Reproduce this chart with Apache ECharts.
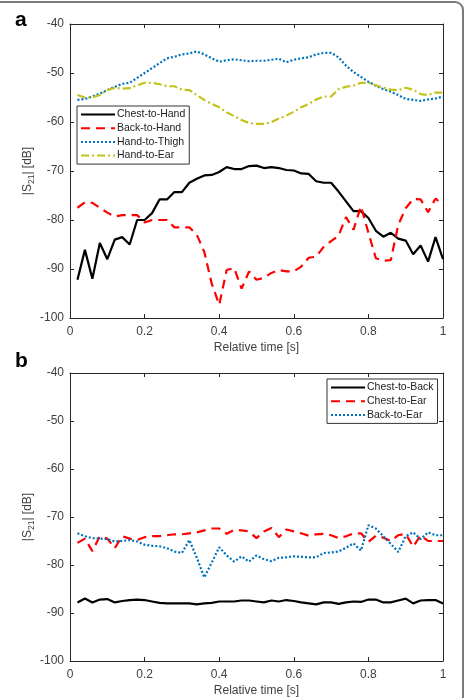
<!DOCTYPE html>
<html>
<head>
<meta charset="utf-8">
<script src="https://cdn.jsdelivr.net/npm/echarts@6/dist/echarts.min.js"></script>
<style>
  html, body { margin: 0; padding: 0; background: #fff; }
  #main { width: 468px; height: 698px; }
</style>
</head>
<body>
<div id="main"></div>
<script>
// relative time [s]
var times = [0.02, 0.04, 0.06, 0.08, 0.10, 0.12, 0.14, 0.16, 0.18, 0.20,
             0.22, 0.24, 0.26, 0.28, 0.30, 0.32, 0.34, 0.36, 0.38, 0.40,
             0.42, 0.44, 0.46, 0.48, 0.50, 0.52, 0.54, 0.56, 0.58, 0.60,
             0.62, 0.64, 0.66, 0.68, 0.70, 0.72, 0.74, 0.76, 0.78, 0.80,
             0.82, 0.84, 0.86, 0.88, 0.90, 0.92, 0.94, 0.96, 0.98, 1.00];

// panel a
var chestToHand = [-92.2, -86.1, -92.0, -84.7, -88.0, -84.0, -83.5, -85.0, -80.0, -80.0,
                   -78.6, -75.8, -75.8, -74.3, -74.3, -72.4, -71.6, -70.9, -70.8, -70.2,
                   -69.2, -69.6, -69.6, -69.0, -68.9, -69.4, -69.2, -69.4, -69.8, -69.9,
                   -70.5, -70.6, -72.1, -72.4, -72.4, -74.2, -76.2, -78.2, -78.2, -79.6,
                   -82.2, -83.4, -82.6, -83.8, -84.2, -87.0, -85.2, -88.5, -83.5, -88.0];
var backToHand = [-77.5, -76.4, -76.5, -77.5, -78.5, -79.3, -79.0, -79.0, -79.0, -80.5,
                  -80.0, -80.0, -80.0, -81.5, -81.5, -81.5, -83.0, -86.5, -93.0, -97.3,
                  -90.2, -89.8, -94.0, -90.5, -92.2, -91.8, -90.8, -90.2, -90.5, -90.5,
                  -89.5, -87.7, -87.5, -85.5, -84.3, -83.2, -79.4, -82.0, -77.2, -82.6,
                  -87.8, -88.3, -88.2, -81.0, -77.6, -75.7, -75.8, -78.4, -75.6, -77.0];
var handToThigh = [-55.5, -55.3, -54.8, -54.2, -53.5, -52.8, -52.2, -52.0, -51.0, -50.0,
                   -49.0, -48.0, -47.0, -46.7, -46.2, -46.0, -45.6, -46.2, -47.0, -47.7,
                   -47.4, -47.2, -47.4, -47.6, -47.5, -47.5, -47.3, -47.1, -47.8, -47.3,
                   -47.0, -46.8, -46.2, -45.9, -45.9, -46.8, -48.5, -49.8, -50.8, -51.8,
                   -52.6, -53.3, -53.8, -54.5, -55.3, -55.5, -55.7, -55.4, -55.2, -54.8];
var handToEar = [-54.5, -55.0, -55.0, -54.5, -53.5, -53.0, -53.2, -53.1, -52.5, -52.0,
                 -52.0, -52.3, -52.7, -52.7, -53.4, -53.5, -54.5, -55.5, -56.3, -57.0,
                 -58.0, -58.8, -59.6, -60.2, -60.4, -60.4, -60.0, -59.3, -58.7, -57.9,
                 -57.0, -56.3, -55.4, -54.8, -54.8, -53.3, -52.8, -52.6, -52.0, -52.0,
                 -52.5, -53.0, -53.4, -53.5, -53.0, -53.4, -54.3, -54.5, -54.0, -54.0];

// panel b
var chestToBack = [-87.8, -87.0, -87.8, -87.2, -87.1, -87.8, -87.5, -87.3, -87.2, -87.3,
                   -87.6, -87.9, -88.0, -88.0, -88.0, -88.0, -88.2, -88.0, -87.9, -87.6,
                   -87.6, -87.6, -87.4, -87.4, -87.6, -87.8, -87.4, -87.6, -87.3, -87.5,
                   -87.8, -88.0, -88.2, -87.8, -87.8, -88.1, -87.8, -87.6, -87.7, -87.2,
                   -87.2, -87.8, -87.8, -87.4, -87.0, -88.0, -87.4, -87.3, -87.3, -88.0];
var chestToEar = [-75.4, -74.5, -77.1, -74.0, -74.5, -76.5, -74.0, -74.5, -74.8, -74.2,
                  -74.0, -74.0, -73.8, -73.6, -73.6, -73.4, -73.2, -72.8, -72.4, -72.4,
                  -73.5, -72.7, -72.8, -73.0, -74.4, -73.0, -72.3, -74.2, -72.6, -73.0,
                  -73.4, -73.9, -73.6, -73.5, -73.8, -74.4, -74.0, -73.4, -73.4, -75.2,
                  -73.9, -74.3, -75.0, -73.8, -73.5, -76.2, -73.8, -75.0, -75.0, -75.0];
var backToEar = [-73.4, -74.0, -74.4, -74.5, -74.6, -75.1, -75.0, -74.8, -75.1, -75.8,
                 -76.0, -76.1, -76.5, -77.2, -77.5, -74.8, -78.5, -82.6, -79.5, -76.3,
                 -78.0, -79.3, -78.2, -79.3, -78.0, -78.8, -79.2, -78.5, -78.4, -78.2,
                 -78.3, -78.4, -78.4, -77.5, -77.4, -77.2, -76.4, -75.5, -77.0, -71.7,
                 -72.4, -74.0, -75.6, -77.3, -74.0, -73.2, -74.6, -73.2, -73.8, -73.8];

var xTicks = { min: 0, max: 1, interval: 0.2 };
var yTicks = { min: -100, max: -40, interval: 10 };

var axisColor = '#262626';
var labelColor = '#404040';
var fontFam = 'Liberation Sans';
var fs = 12;

function pairs(ys) {
    var out = [];
    for (var i = 0; i < ys.length; i++) out.push([times[i], ys[i]]);
    return out;
}

function xAxisMain(gi) {
    return {
        type: 'value', gridIndex: gi, min: xTicks.min, max: xTicks.max, interval: xTicks.interval,
        name: 'Relative time [s]', nameLocation: 'middle', nameGap: 24,
        nameTextStyle: { color: labelColor, fontSize: fs, fontFamily: fontFam },
        axisLine: { show: true, onZero: false, lineStyle: { color: axisColor, width: 1 } },
        axisTick: { show: true, inside: true, length: 4, lineStyle: { color: axisColor } },
        axisLabel: { color: labelColor, fontSize: fs, fontFamily: fontFam, margin: 8 },
        splitLine: { show: false }
    };
}
function xAxisTop(gi) {
    return {
        type: 'value', gridIndex: gi, position: 'top', min: xTicks.min, max: xTicks.max, interval: xTicks.interval,
        axisLine: { show: true, onZero: false, lineStyle: { color: axisColor, width: 1 } },
        axisTick: { show: true, inside: true, length: 4, lineStyle: { color: axisColor } },
        axisLabel: { show: false },
        splitLine: { show: false }
    };
}
function yAxisMain(gi) {
    return {
        type: 'value', gridIndex: gi, min: yTicks.min, max: yTicks.max, interval: yTicks.interval,
        name: '|S{sub|21}| [dB]', nameLocation: 'middle', nameGap: 34, nameRotate: 90,
        nameMoveOverlap: false,
        nameTextStyle: {
            color: labelColor, fontSize: fs, fontFamily: fontFam, lineHeight: 17,
            rich: { sub: { fontSize: 8.5, lineHeight: 9, verticalAlign: 'bottom', fontFamily: fontFam, color: labelColor } }
        },
        axisLine: { show: true, onZero: false, lineStyle: { color: axisColor, width: 1 } },
        axisTick: { show: true, inside: true, length: 4, lineStyle: { color: axisColor } },
        axisLabel: { color: labelColor, fontSize: fs, fontFamily: fontFam, margin: 6 },
        splitLine: { show: false }
    };
}
function yAxisRight(gi) {
    return {
        type: 'value', gridIndex: gi, position: 'right', min: yTicks.min, max: yTicks.max, interval: yTicks.interval,
        axisLine: { show: true, onZero: false, lineStyle: { color: axisColor, width: 1 } },
        axisTick: { show: true, inside: true, length: 4, lineStyle: { color: axisColor } },
        axisLabel: { show: false },
        splitLine: { show: false }
    };
}

function line(name, ys, xi, yi, color, dash, width) {
    return {
        name: name, type: 'line', xAxisIndex: xi, yAxisIndex: yi,
        data: pairs(ys), symbol: 'none', animation: false,
        lineStyle: { color: color, width: width, type: dash },
        itemStyle: { color: color }
    };
}

var chart = echarts.init(document.getElementById('main'));
var legendBase = {
    orient: 'vertical', itemWidth: 34, itemHeight: 12, itemGap: 2.7,
    backgroundColor: '#fff', borderColor: '#333', borderWidth: 1, borderRadius: 0,
    padding: [3, 4, 3, 3],
    itemStyle: { opacity: 0, borderWidth: 0 },
    textStyle: { color: '#222', fontSize: 10.5, fontFamily: fontFam, padding: [0, 0, 0, -3] }
};

var option = {
    backgroundColor: '#fff',
    animation: false,
    graphic: [
        { type: 'rect', shape: { x: -20, y: 2, width: 483, height: 760, r: 8 },
          style: { fill: 'none', stroke: '#7a7a7a', lineWidth: 2 }, silent: true },
        { type: 'text', left: 15, top: 10,
          style: { text: 'a', font: 'bold 21px Liberation Sans', fill: '#000' } },
        { type: 'text', left: 15, top: 351,
          style: { text: 'b', font: 'bold 21px Liberation Sans', fill: '#000' } }
    ],
    grid: [
        { left: 70, top: 24, width: 373, height: 294 },
        { left: 70, top: 373, width: 373, height: 294 }
    ],
    xAxis: [xAxisMain(0), xAxisMain(1), xAxisTop(0), xAxisTop(1)],
    yAxis: [yAxisMain(0), yAxisMain(1), yAxisRight(0), yAxisRight(1)],
    legend: [
        Object.assign({}, legendBase, { left: 77, top: 106,
            data: ['Chest-to-Hand', 'Back-to-Hand', 'Hand-to-Thigh', 'Hand-to-Ear'] }),
        Object.assign({}, legendBase, { left: 327, top: 379,
            data: ['Chest-to-Back', 'Chest-to-Ear', 'Back-to-Ear'] })
    ],
    series: [
        line('Chest-to-Hand', chestToHand, 0, 0, '#000000', 'solid', 2.2),
        line('Back-to-Hand', backToHand, 0, 0, '#ff0000', [9, 6], 2.2),
        line('Hand-to-Thigh', handToThigh, 0, 0, '#0072bd', [2, 2], 2.2),
        line('Hand-to-Ear', handToEar, 0, 0, '#c2c21a', [8, 3, 2, 3], 2.2),
        line('Chest-to-Back', chestToBack, 1, 1, '#000000', 'solid', 2.2),
        line('Chest-to-Ear', chestToEar, 1, 1, '#ff0000', [9, 6], 2.2),
        line('Back-to-Ear', backToEar, 1, 1, '#0072bd', [2, 2], 2.2)
    ]
};
chart.setOption(option);
</script>
</body>
</html>
